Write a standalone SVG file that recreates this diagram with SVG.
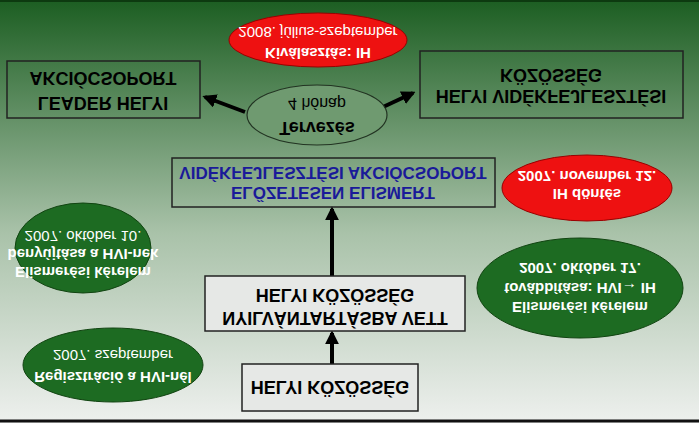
<svg xmlns="http://www.w3.org/2000/svg" width="699" height="423" viewBox="0 0 699 423">
<defs>
<linearGradient id="bg" x1="0" y1="0" x2="0" y2="1">
<stop offset="0" stop-color="#eef0ee"/><stop offset="0.45" stop-color="#a9c2a9"/><stop offset="1" stop-color="#1c5e22"/>
</linearGradient>
<marker id="ah" viewBox="0 0 10 10" refX="8" refY="5" markerWidth="3.5" markerHeight="3.5" orient="auto"><path d="M0,0L10,5L0,10z" fill="#000"/></marker>
<style>
.box{fill:none;stroke:#222;stroke-width:1.5}
.lbox{fill:#e6e8e6;stroke:#222;stroke-width:1.5}
.t{font-family:"Liberation Sans",Arial,sans-serif;font-weight:bold;font-size:18px;text-anchor:middle;dominant-baseline:central;fill:#000}
.b{fill:#1a1a99;font-size:17px}
.w{font-family:"Liberation Sans",Arial,sans-serif;font-weight:bold;font-size:15px;text-anchor:middle;dominant-baseline:central;fill:#fff}
.wr{font-family:"Liberation Sans",Arial,sans-serif;font-size:15px;text-anchor:middle;dominant-baseline:central;fill:#fff}
.k{font-family:"Liberation Sans",Arial,sans-serif;font-size:16px;text-anchor:middle;dominant-baseline:central;fill:#000}
.red{fill:#ee1111;stroke:#990000}
.grn{fill:#1d6b22;stroke:#114411}
.c{stroke:#000;stroke-width:4;fill:none;marker-end:url(#ah)}
</style>
</defs>
<g transform="matrix(1 0 0 -1 0 423)">
<rect width="699" height="423" fill="url(#bg)"/>
<line x1="0" y1="2" x2="699" y2="2" stroke="#111" stroke-width="3"/>
<line x1="0" y1="422" x2="699" y2="422" stroke="#0d3a10" stroke-width="2"/>
<g id="connectors">
<path class="c" d="M332,147V214"/>
<path class="c" d="M332,59V90"/>
<path class="c" d="M245,311L205,326"/>
<path class="c" d="M383,316L413,330"/>
</g>
<g id="leader"><rect class="box" x="7" y="305" width="193" height="57"/>
<text class="t" x="103" y="320">LEADER HELYI</text>
<text class="t" x="103" y="345">AKCIÓCSOPORT</text></g>
<g id="hvk"><rect class="box" x="420" y="305" width="263" height="67"/>
<text class="t" x="551" y="327">HELYI VIDÉKFEJLESZTÉSI</text>
<text class="t" x="551" y="348">KÖZÖSSÉG</text></g>
<g id="kivalasztas"><ellipse class="red" cx="318" cy="383" rx="89" ry="27"/>
<text class="w" x="318" y="370">Kiválasztás: IH</text>
<text class="wr" x="318" y="391">2008. július-szeptember</text></g>
<g id="tervezes"><ellipse cx="317" cy="308" rx="70" ry="30" fill="#6f9a70" stroke="#223322" stroke-width="1.2"/>
<text class="t" x="317" y="295">Tervezés</text>
<text class="k" x="317" y="320">4 hónap</text></g>
<g id="elozetes"><rect class="box" x="172" y="216" width="323" height="49"/>
<text class="t b" x="333" y="231">ELŐZETESEN ELISMERT</text>
<text class="t b" x="333" y="251">VIDÉKFEJLESZTÉSI AKCIÓCSOPORT</text></g>
<g id="ihdontes"><ellipse class="red" cx="587" cy="235" rx="85" ry="33"/>
<text class="w" x="587" y="229">IH döntés</text>
<text class="w" x="587" y="247">2007. november 12.</text></g>
<g id="benyujtas"><ellipse class="grn" cx="83" cy="175" rx="68" ry="45"/>
<text class="wr" x="83" y="187">2007. október 10.</text>
<text class="w" x="83" y="169">benyújtása a HVI-nek</text>
<text class="w" x="83" y="151">Elismerési kérelem</text></g>
<g id="nyilvantartas"><rect class="lbox" x="205" y="92" width="260" height="55"/>
<text class="t" x="335" y="128">HELYI KÖZÖSSÉG</text>
<text class="t" x="335" y="105">NYILVÁNTARTÁSBA VETT</text></g>
<g id="tovabbitas"><ellipse class="grn" cx="580" cy="135" rx="103" ry="50"/>
<text class="w" x="580" y="155">2007. október 17.</text>
<text class="w" x="580" y="135">továbbítása: HVI→ IH</text>
<text class="w" x="580" y="116">Elismerési kérelem</text></g>
<g id="regisztracio"><ellipse class="grn" cx="113" cy="58" rx="90" ry="37"/>
<text class="wr" x="113" y="68">2007. szeptember</text>
<text class="w" x="113" y="46">Regisztráció a HVI-nél</text></g>
<g id="helyi"><rect class="lbox" x="242" y="12" width="176" height="47"/>
<text class="t" x="330" y="36">HELYI KÖZÖSSÉG</text></g>
</g>
</svg>
